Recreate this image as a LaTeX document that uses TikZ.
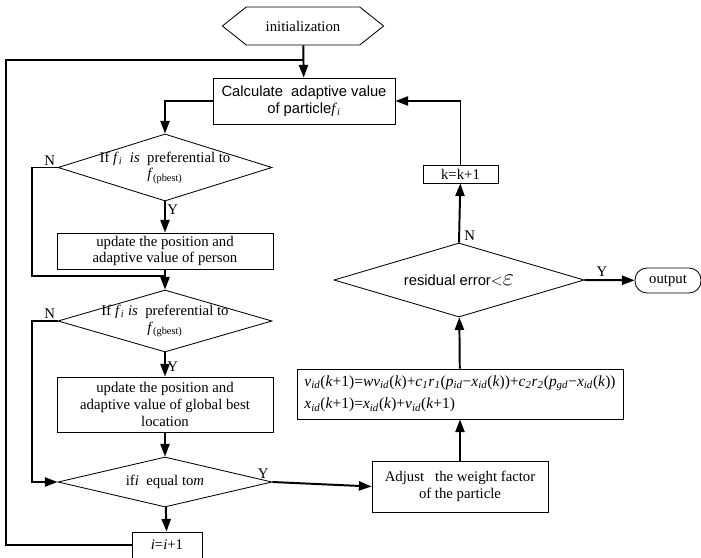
\documentclass[tikz,border=0pt]{standalone}
\usepackage{fontspec}
\setmainfont{Liberation Serif}
\newfontfamily\arialfont{Liberation Sans}
\usetikzlibrary{positioning, shapes.geometric, shapes.symbols, arrows.meta}
% italic variable with italic subscript, set in the text font
\newcommand{\var}[2]{\textit{#1}\textsubscript{\textit{#2}}}

\begin{document}
\begin{tikzpicture}[
                  x=0.025cm, y=-0.025cm, % pixel-like units
                  every node/.style={font=\fontsize{10.5}{12}\selectfont},
                  process/.style={rectangle, draw, line width=0.6pt, align=center, inner sep=1pt},
                  decision/.style={diamond, draw, line width=0.6pt, align=center, aspect=3.2, inner sep=-9pt, minimum width=5.35cm},
                  arrow/.style={line width=1.4pt, -{Triangle[length=9pt, width=6.5pt]}},
                  line/.style={line width=1.4pt}
            ]
            \clip (0,0) rectangle (701,557);

            % Nodes
            \node (init) [signal, signal to=west and east, signal pointer angle=77, draw, line width=0.6pt, minimum width=4.03cm, minimum height=0.95cm] at (303,26) {initialization};
            \node (calc) [process, minimum width=4.55cm, minimum height=1.15cm, font=\arialfont\fontsize{10.5}{12}\selectfont] at (304,101) {Calculate\ \ adaptive value\\of particle{\rmfamily\var{f}{i}}};

            \node (pdec) [decision, minimum height=1.675cm] at (165,167.5) {If \var{f}{i}\ \ \textit{is}\ \ preferential to\\\textit{f}\textsubscript{(pbest)}};
            \node (person) [process, minimum width=5.4cm, minimum height=0.9cm] at (165,251) {update the position and\\adaptive value of person};
            \node (gdec) [decision, minimum height=1.55cm] at (165,321) {If \var{f}{i} \textit{is}\ \ preferential to\\\textit{f}\textsubscript{(gbest)}};
            \node (global) [process, minimum width=5.4cm, minimum height=1.375cm] at (165,404.5) {update the position and\\adaptive value of global best\\location};
            \node (mdec) [decision, minimum height=1.25cm] at (165,482) {if\textit{i}\ \ equal to\textit{m}};
            \node (inci) [process, minimum width=1.75cm, minimum height=0.65cm] at (167,545) {\textit{i}=\textit{i}+1};

            \node (adjust) [process, minimum width=4.4cm, minimum height=1.275cm] at (460,486.5) {Adjust\ \ \ the weight factor\\of the particle};
            \node (update) [process, minimum width=8.15cm, minimum height=1.25cm, align=left, inner sep=2pt, font=\fontsize{11}{16}\selectfont] at (460,394) {\var{v}{id}(\textit{k}+1)=\textit{w}\var{v}{id}(\textit{k})+\var{c}{1}\var{r}{1}(\var{p}{id}−\var{x}{id}(\textit{k}))+\var{c}{2}\var{r}{2}(\var{p}{gd}−\var{x}{id}(\textit{k}))\\\var{x}{id}(\textit{k}+1)=\var{x}{id}(\textit{k})+\var{v}{id}(\textit{k}+1)};
            \node (edec) [decision, aspect=3.4, minimum width=6.25cm, minimum height=1.85cm, font=\arialfont\fontsize{10.5}{12}\selectfont] at (459,280) {residual error$<${\LARGE$\varepsilon$}};
            \node (inck) [process, minimum width=1.875cm, minimum height=0.45cm, inner sep=0pt] at (460.5,174) {k=k+1};
            \node (output) [rectangle, draw, line width=0.6pt, rounded corners=8.5pt, minimum width=1.65cm, minimum height=0.625cm] at (668,280.5) {output};

            \coordinate (loop) at (6,60);
            \coordinate (pjoin) at (165,276);

            % Arrows
            \draw [arrow] (init) -- (calc);
            \draw [arrow] (calc.west) -| (pdec.north);
            \draw [arrow] (pdec) -- node[right, pos=0.25, inner sep=1pt] {Y} (person);
            \draw [line] (pdec.west) node[above left, inner sep=1pt] {N} -- ++(-26,0) |- (pjoin);
            \draw [arrow] (person) -- (gdec);
            \draw [arrow] (gdec) -- node[right, pos=0.6, inner sep=1pt] {Y} (global);
            \draw [arrow] (gdec.west) node[above left, inner sep=1pt] {N} -- ++(-26,0) |- (mdec.west);
            \draw [arrow] (global) -- (mdec);
            \draw [arrow] (mdec) -- (inci);
            \draw [arrow] (mdec.east) node[above left, inner sep=2pt] {Y} -- (adjust.west);

            % Loop back over the particles
            \draw [line] (inci.west) -| (loop) -- (loop -| init.south);

            % Right branch
            \draw [arrow] (adjust) -- (update);
            \draw [arrow] (update) -- (edec);
            \draw [arrow] (edec.east) -- node[above, pos=0.35, inner sep=2pt] {Y} (output);
            \draw [arrow] (edec.north) -- node[right, pos=0.12, inner sep=3pt] {N} (inck);
            \draw [arrow] (inck.north) |- (calc.east);

      \end{tikzpicture}
\end{document}
